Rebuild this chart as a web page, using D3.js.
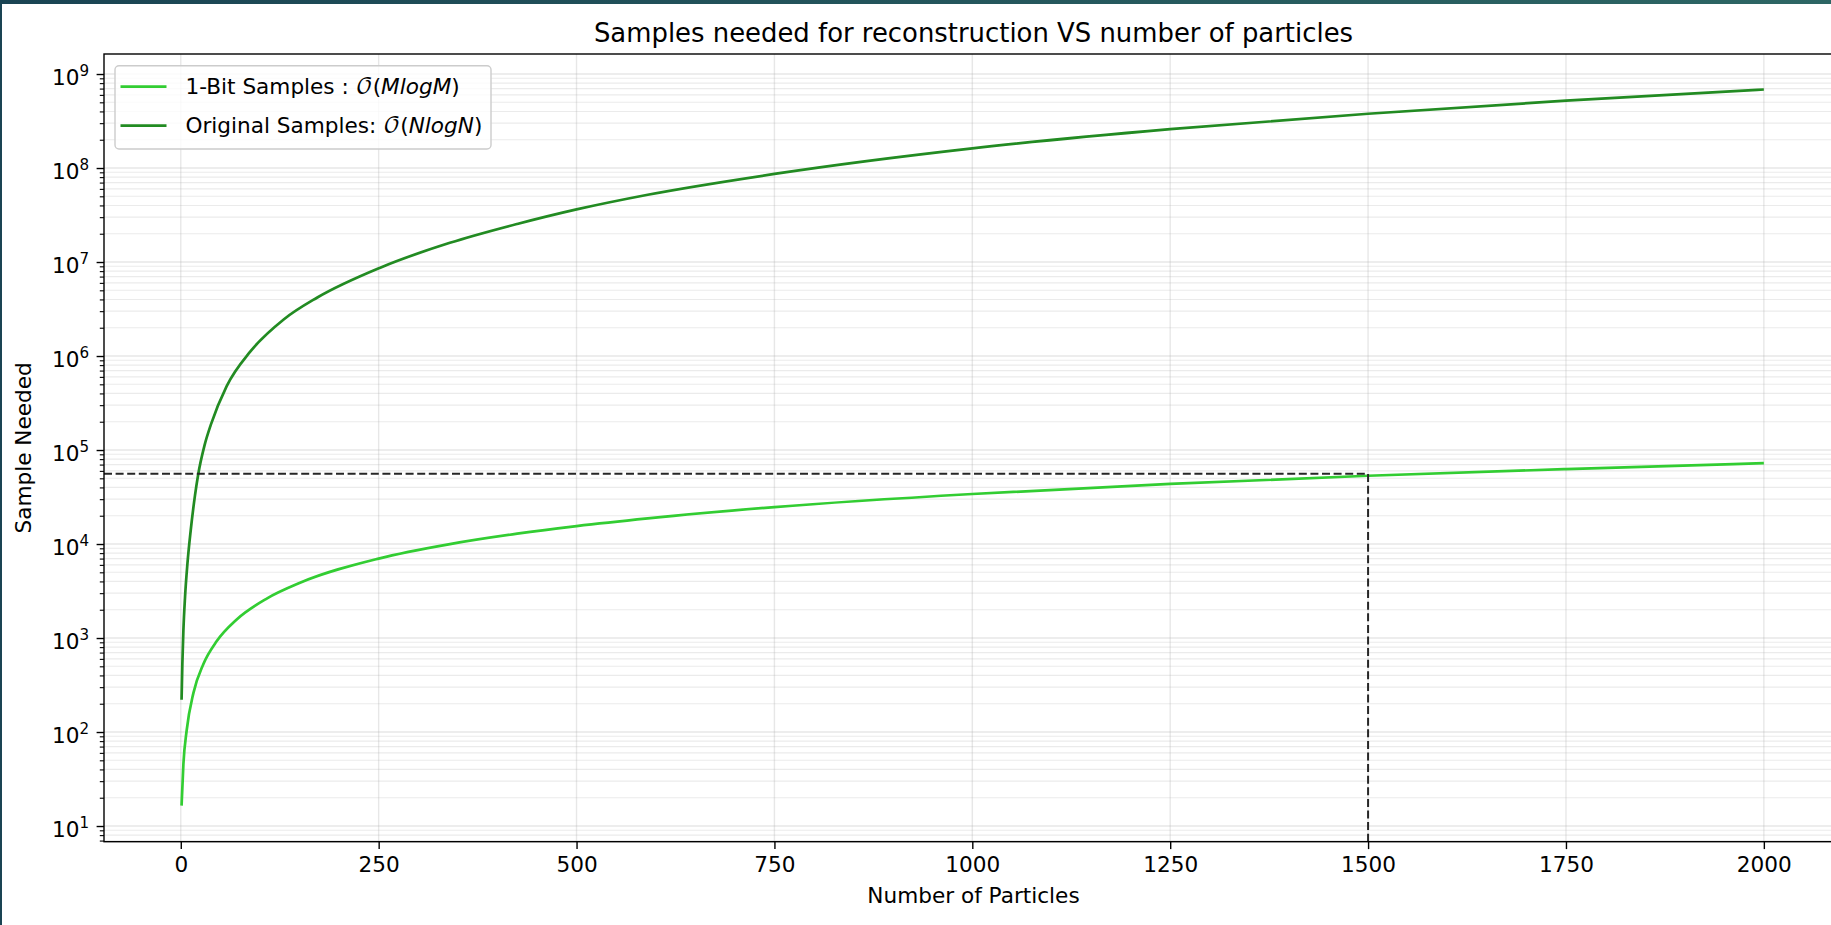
<!DOCTYPE html>
<html>
<head>
<meta charset="utf-8">
<script src="https://cdn.jsdelivr.net/npm/d3@7/dist/d3.min.js"></script>
<style>
  body { margin: 0; background: #fff; }
  svg { display: block; font-family: 'DejaVu Sans', sans-serif; }
</style>
</head>
<body>
<div id="chart"></div>
<script>
// values
var particlesOneBit = [1, 3.3, 7.5, 16, 28.6, 45.5, 70.7, 108.6, 150.7, 250, 340, 425, 500, 590, 750, 1000, 1250, 1500, 1750, 2000];
var samplesOneBit = [16.5, 45.4, 105, 261, 530, 929, 1578, 2630, 3870, 7000, 9980, 12880, 15520, 18750, 24720, 34040, 43550, 53210, 62660, 72440];

var particlesOriginal = [1, 2, 3.3, 5.4, 8.4, 12.6, 18, 22, 30, 38, 58, 88, 130, 172, 252, 340, 425, 500, 590, 750, 1000, 1250, 1500, 1750, 2000];
var samplesOriginal = [220, 537, 1200, 2750, 6170, 14100, 33100, 55000, 112000, 186000, 479000, 1120000, 2450000, 4170000, 8710000, 16000000, 25400000, 36300000, 52000000, 86500000, 161800000, 258800000, 377600000, 521000000, 684000000];

var xTicks = [0, 250, 500, 750, 1000, 1250, 1500, 1750, 2000];
var yExponents = [1, 2, 3, 4, 5, 6, 7, 8, 9];

var markerParticles = 1500;
var markerSamples = 56000;

var seriesLabels = ['1-Bit Samples : ', 'Original Samples: '];
var seriesMath = ['MlogM', 'NlogN'];
var seriesColors = ['#32cd32', '#228b22'];

var width = 1831, height = 925;
var plot = {left: 104, right: 1843, top: 54, bottom: 841.7};
var fontSize = 21.6;

var x = d3.scaleLinear().domain([-97, 2100]).range([plot.left, plot.right]);
var y = d3.scaleLog().domain([6.81, 1.633e9]).range([plot.bottom, plot.top]);

var svg = d3.select('#chart').append('svg')
    .attr('width', width)
    .attr('height', height);

// window frame around the screenshot
var grad = svg.append('defs').append('linearGradient').attr('id', 'frame');
grad.append('stop').attr('offset', '0%').attr('stop-color', '#1a4453');
grad.append('stop').attr('offset', '100%').attr('stop-color', '#2d6664');
svg.append('rect').attr('width', width).attr('height', height).attr('fill', '#fff');
svg.append('rect').attr('width', width).attr('height', 4).attr('fill', 'url(#frame)');
svg.append('rect').attr('width', 2).attr('height', height).attr('fill', '#1a4453');

// minor tick values for the log axis
var yMinor = [];
for (var k = 0; k <= 9; k++) {
    for (var m = 2; m <= 9; m++) {
        var v = m * Math.pow(10, k);
        if (v > y.domain()[0] && v < y.domain()[1]) yMinor.push(v);
    }
}
var yMajor = yExponents.map(e => Math.pow(10, e));

// grid
var grid = svg.append('g');
grid.selectAll('.gy-minor').data(yMinor).enter().append('line')
    .attr('x1', plot.left).attr('x2', plot.right)
    .attr('y1', d => y(d)).attr('y2', d => y(d))
    .attr('stroke', '#b0b0b0').attr('stroke-opacity', 0.25).attr('stroke-width', 1.1);
grid.selectAll('.gy-major').data(yMajor).enter().append('line')
    .attr('x1', plot.left).attr('x2', plot.right)
    .attr('y1', d => y(d)).attr('y2', d => y(d))
    .attr('stroke', '#b0b0b0').attr('stroke-opacity', 0.3).attr('stroke-width', 1.4);
grid.selectAll('.gx').data(xTicks).enter().append('line')
    .attr('x1', d => x(d)).attr('x2', d => x(d))
    .attr('y1', plot.top).attr('y2', plot.bottom)
    .attr('stroke', '#b0b0b0').attr('stroke-opacity', 0.3).attr('stroke-width', 1.4);

// series
var line = d3.line()
    .x(d => x(d[0]))
    .y(d => y(d[1]))
    .curve(d3.curveMonotoneX);

svg.append('path')
    .datum(d3.zip(particlesOneBit, samplesOneBit))
    .attr('d', line)
    .attr('fill', 'none')
    .attr('stroke', seriesColors[0])
    .attr('stroke-width', 2.7);

svg.append('path')
    .datum(d3.zip(particlesOriginal, samplesOriginal))
    .attr('d', line)
    .attr('fill', 'none')
    .attr('stroke', seriesColors[1])
    .attr('stroke-width', 2.7);

// dashed marker lines
svg.append('line')
    .attr('x1', x(x.domain()[0])).attr('x2', x(markerParticles))
    .attr('y1', y(markerSamples)).attr('y2', y(markerSamples))
    .attr('stroke', '#262626').attr('stroke-width', 2)
    .attr('stroke-dasharray', '8,3.6');
svg.append('line')
    .attr('x1', x(markerParticles)).attr('x2', x(markerParticles))
    .attr('y1', plot.bottom).attr('y2', y(markerSamples))
    .attr('stroke', '#262626').attr('stroke-width', 2)
    .attr('stroke-dasharray', '8,3.6');

// axes
var xAxis = d3.axisBottom(x).tickValues(xTicks).tickSize(7.4).tickPadding(7.4).tickFormat(d3.format('d'));
var gx = svg.append('g')
    .attr('transform', 'translate(0,' + plot.bottom + ')')
    .call(xAxis);
gx.select('.domain').remove();
gx.selectAll('.tick line').attr('stroke', '#000').attr('stroke-width', 1.4);
gx.selectAll('.tick text').attr('font-size', fontSize).attr('font-family', 'DejaVu Sans').attr('fill', '#000');

var yMinorAxis = d3.axisLeft(y).tickValues(yMinor).tickSize(4.2).tickFormat('');
var gyMinor = svg.append('g')
    .attr('transform', 'translate(' + plot.left + ',0)')
    .call(yMinorAxis);
gyMinor.select('.domain').remove();
gyMinor.selectAll('.tick line').attr('stroke', '#000').attr('stroke-width', 1.1);

var yAxis = d3.axisLeft(y).tickValues(yMajor).tickSize(7.4).tickPadding(7.4);
var gy = svg.append('g')
    .attr('transform', 'translate(' + plot.left + ',0)')
    .call(yAxis);
gy.select('.domain').remove();
gy.selectAll('.tick line').attr('stroke', '#000').attr('stroke-width', 1.4);
gy.selectAll('.tick text')
    .attr('font-size', fontSize).attr('font-family', 'DejaVu Sans').attr('fill', '#000')
    .attr('dy', '0.47em')
    .each(function(d) {
        var t = d3.select(this);
        t.text('');
        t.append('tspan').text('10');
        t.append('tspan').attr('font-size', fontSize * 0.7).attr('dy', -8.3)
            .text(Math.round(Math.log10(d)));
    });

// spines (right one falls outside the window)
svg.append('rect')
    .attr('x', plot.left).attr('y', plot.top)
    .attr('width', plot.right - plot.left).attr('height', plot.bottom - plot.top)
    .attr('fill', 'none').attr('stroke', '#000').attr('stroke-width', 1.4);

// title and labels
svg.append('text')
    .attr('x', (plot.left + plot.right) / 2).attr('y', 41.7)
    .attr('text-anchor', 'middle').attr('font-size', 25.9)
    .text('Samples needed for reconstruction VS number of particles');

svg.append('text')
    .attr('x', (plot.left + plot.right) / 2).attr('y', 903)
    .attr('text-anchor', 'middle').attr('font-size', fontSize)
    .text('Number of Particles');

svg.append('text')
    .attr('transform', 'translate(31,' + (plot.top + plot.bottom) / 2 + ') rotate(-90)')
    .attr('text-anchor', 'middle').attr('font-size', fontSize)
    .text('Sample Needed');

// legend
var legend = svg.append('g');
legend.append('rect')
    .attr('x', 115).attr('y', 65.7)
    .attr('width', 376).attr('height', 83.3)
    .attr('rx', 4)
    .attr('fill', '#fff').attr('fill-opacity', 0.8)
    .attr('stroke', '#cccccc').attr('stroke-width', 1.4);

var rows = legend.selectAll('.row').data(seriesLabels).enter().append('g')
    .attr('transform', (d, i) => 'translate(0,' + (86.7 + i * 39) + ')');

rows.append('line')
    .attr('x1', 120.5).attr('x2', 166.5)
    .attr('stroke', (d, i) => seriesColors[i])
    .attr('stroke-width', 2.7);

var label = rows.append('text')
    .attr('x', 185.5).attr('y', 7.7)
    .attr('font-size', fontSize);
label.append('tspan').text(d => d);
label.append('tspan').attr('font-family', "'DejaVu Math TeX Gyre', 'DejaVu Serif', serif").text('\u{1D4AA}');
label.append('tspan').text('(');
label.append('tspan').attr('font-style', 'italic').text((d, i) => seriesMath[i]);
label.append('tspan').text(')');
</script>
</body>
</html>
